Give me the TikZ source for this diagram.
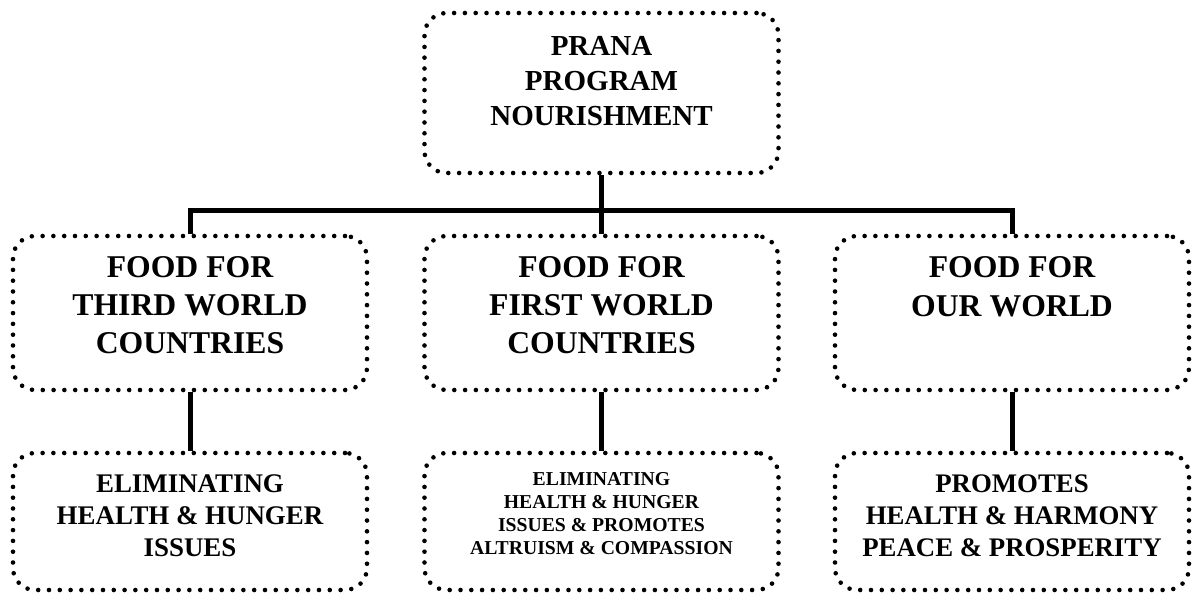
\documentclass[tikz,border=0pt]{standalone}
\usepackage{fontspec}
\setmainfont{Liberation Serif}
\begin{document}
\begin{tikzpicture}[x=1pt,y=-1pt,
  box/.style={draw, line width=4.6pt, line cap=round, dash pattern=on 0pt off 10.8pt, rounded corners=22pt, minimum width=#1, inner sep=0pt},
  box/.default=354pt,
  txt/.style={align=center, font=\bfseries, inner sep=0pt},
  conn/.style={line width=5pt}]
\useasboundingbox (0,0) rectangle (1193,594);
% boxes
\node[box, minimum height=160pt] (top) at (601.5,93) {};
\node[box, minimum height=154pt] (m1) at (190,313) {};
\node[box, minimum height=154pt] (m2) at (601.5,313) {};
\node[box, minimum height=154pt] (m3) at (1012,313) {};
\node[box, minimum height=137pt] (b1) at (190,521.5) {};
\node[box, minimum height=137pt] (b2) at (601.5,521.5) {};
\node[box, minimum height=137pt] (b3) at (1012,521.5) {};
% texts
\node[txt, font=\bfseries\fontsize{29}{35}\selectfont] (ttop) at (601.5,81) {PRANA\\PROGRAM\\NOURISHMENT};
\node[txt, font=\bfseries\fontsize{31.7}{38}\selectfont] (tm1) at (190,305) {FOOD FOR\\THIRD WORLD\\COUNTRIES};
\node[txt, font=\bfseries\fontsize{31.7}{38}\selectfont] (tm2) at (601.5,305) {FOOD FOR\\FIRST WORLD\\COUNTRIES};
\node[txt, font=\bfseries\fontsize{31.7}{39}\selectfont] (tm3) at (1012,287) {FOOD FOR\\OUR WORLD};
\node[txt, font=\bfseries\fontsize{26.9}{32}\selectfont] (tb1) at (190,516) {ELIMINATING\\HEALTH \& HUNGER\\ISSUES};
\node[txt, font=\bfseries\fontsize{19.7}{23}\selectfont] (tb2) at (601.5,514) {ELIMINATING\\HEALTH \& HUNGER\\ISSUES \& PROMOTES\\ALTRUISM \& COMPASSION};
\node[txt, font=\bfseries\fontsize{26.8}{32}\selectfont] (tb3) at (1012,516) {PROMOTES\\HEALTH \& HARMONY\\PEACE \& PROSPERITY};
% connectors
\coordinate (bus) at (601.5,210);
\draw[conn] (top.south) -- (bus);
\draw[conn] (m1.north) |- (bus) -| (m3.north);
\draw[conn] (bus) -- (m2.north);
\draw[conn] (m1.south) -- (b1.north);
\draw[conn] (m2.south) -- (b2.north);
\draw[conn] (m3.south) -- (b3.north);
\end{tikzpicture}
\end{document}
